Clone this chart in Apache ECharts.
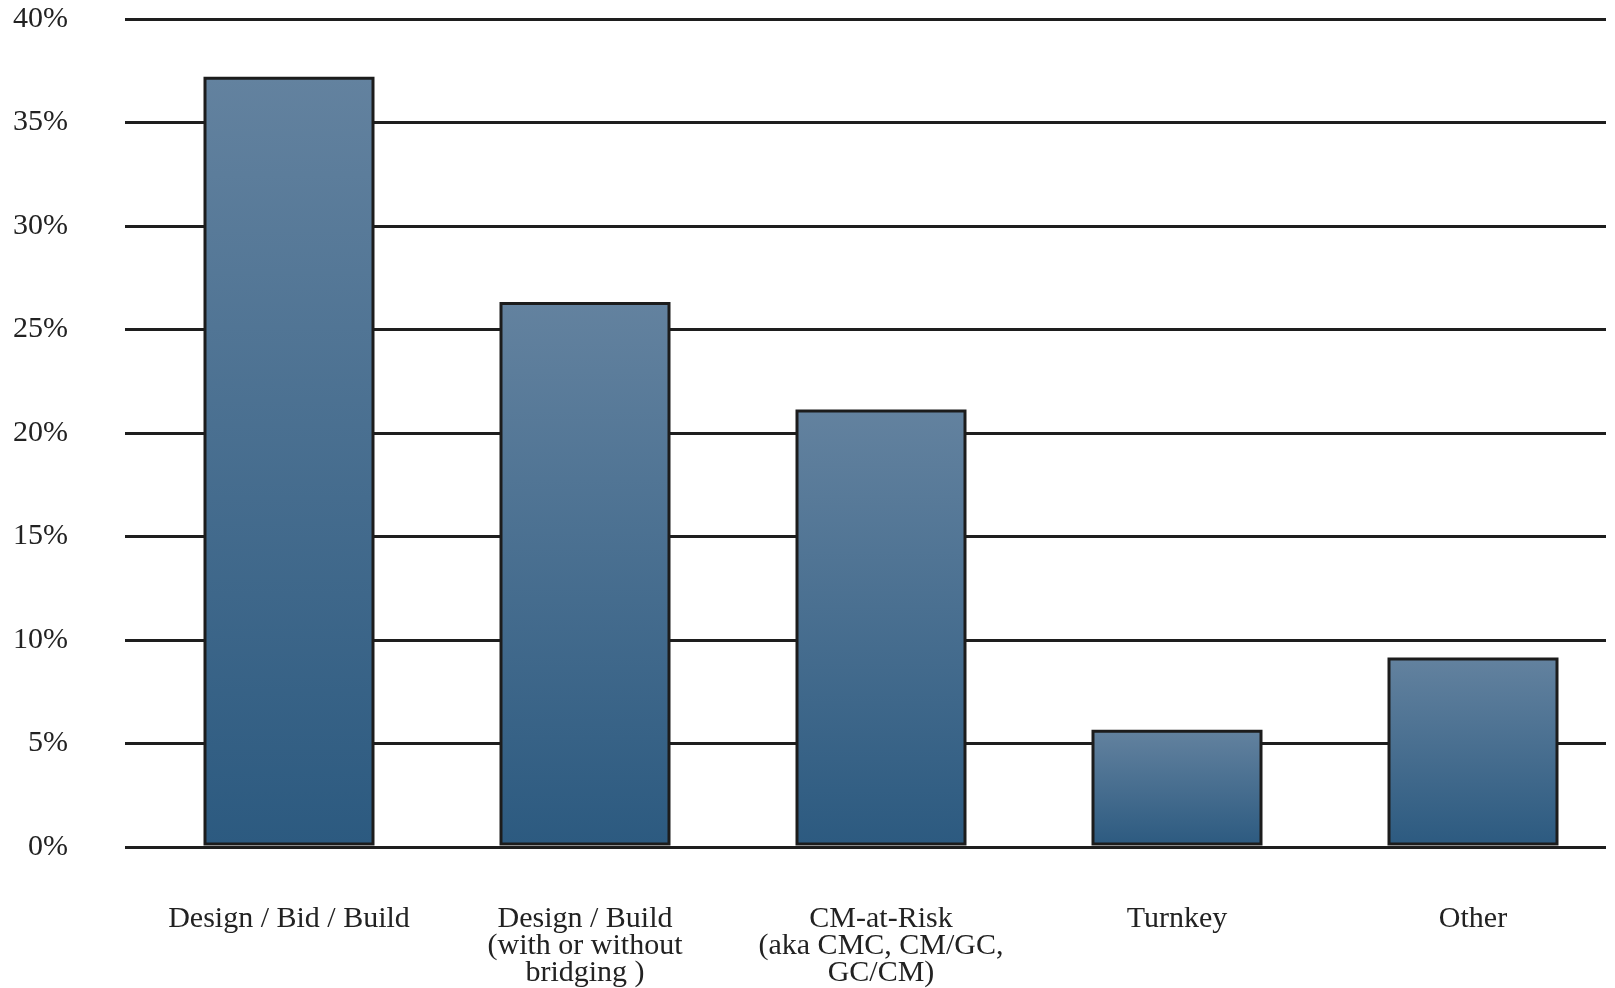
<!DOCTYPE html>
<html>
<head>
<meta charset="utf-8">
<script src="https://cdn.jsdelivr.net/npm/echarts@6/dist/echarts.min.js"></script>
<style>
html,body{margin:0;padding:0;background:#fff;}
#chart{width:1615px;height:988px;}
</style>
</head>
<body>
<div id="chart"></div>
<script>
const categories = [
  "Design / Bid / Build",
  "Design / Build\n(with or without\nbridging )",
  "CM-at-Risk\n(aka CMC, CM/GC,\nGC/CM)",
  "Turnkey",
  "Other"
];
const shares = [37.2, 26.3, 21.1, 5.6, 9.1];
const yTicks = [0, 5, 10, 15, 20, 25, 30, 35, 40];

const chart = echarts.init(document.getElementById('chart'), null, {renderer: 'canvas'});
const fontFamily = '"Liberation Serif", "DejaVu Serif", serif';

chart.setOption({
  backgroundColor: '#ffffff',
  animation: false,
  grid: [
    {left: 125, right: 9, top: 19, bottom: 141},
    {left: 289, right: 142, top: 19, bottom: 141}
  ],
  xAxis: [
    {gridIndex: 0, type: 'category', data: categories, show: false},
    {
      gridIndex: 1, type: 'category', data: categories, boundaryGap: false,
      axisLine: {show: false}, axisTick: {show: false},
      axisLabel: {
        interval: 0, margin: 60, fontSize: 30, lineHeight: 27,
        fontFamily: fontFamily, color: '#222222', align: 'center', verticalAlign: 'top'
      }
    }
  ],
  yAxis: [
    {
      gridIndex: 0, type: 'value', min: yTicks[0], max: yTicks[yTicks.length - 1], interval: 5,
      axisLine: {show: false}, axisTick: {show: false},
      splitLine: {show: true, lineStyle: {color: '#1e1e1e', width: 3}},
      axisLabel: {
        margin: 57, fontSize: 30, fontFamily: fontFamily, color: '#222222',
        formatter: v => v + '%'
      }
    },
    {
      gridIndex: 1, type: 'value', min: yTicks[0], max: yTicks[yTicks.length - 1], interval: 5,
      show: false
    }
  ],
  series: [{
    type: 'bar',
    xAxisIndex: 1, yAxisIndex: 1,
    data: shares,
    barWidth: 171,
    clip: false,
    itemStyle: {
      color: new echarts.graphic.LinearGradient(0, 0, 0, 1, [
        {offset: 0, color: '#63829f'},
        {offset: 1, color: '#2c5a80'}
      ]),
      borderColor: '#1c1c1c',
      borderWidth: 3
    }
  }]
});
</script>
</body>
</html>
